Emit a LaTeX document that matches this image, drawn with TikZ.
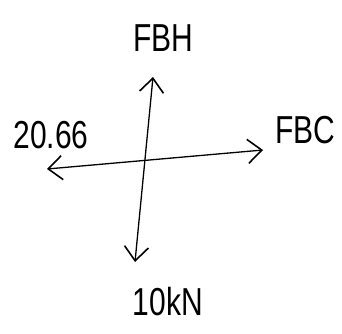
\documentclass[tikz,border=0pt]{standalone}
\usepackage{fontspec}
\setmainfont{Liberation Sans}
\usetikzlibrary{arrows.meta}
\begin{document}
\begin{tikzpicture}[x=1pt,y=-1pt,
  tip/.style={},
  force/.style={line width=1.3pt,{Straight Barb[length=14pt,width=24pt,line width=1.6pt]}-{Straight Barb[length=14pt,width=24pt,line width=1.6pt]}},
  lbl/.style={font=\fontsize{30}{32}\selectfont, yscale=1.3, inner sep=0pt}]
\useasboundingbox (0,0) rectangle (342,333);
\coordinate (top) at (153,77);
\coordinate (bot) at (135,262);
\coordinate (left) at (47,169);
\coordinate (right) at (263,150);
\draw[force] (top) -- (bot);
\draw[force] (left) -- (right);
\node[lbl] (fbh) at (163,38) {FBH};
\node[lbl] (w) at (51,135) {20.66};
\node[lbl] (fbc) at (305,130) {FBC};
\node[lbl] (load) at (168,302) {10kN};
\end{tikzpicture}
\end{document}
